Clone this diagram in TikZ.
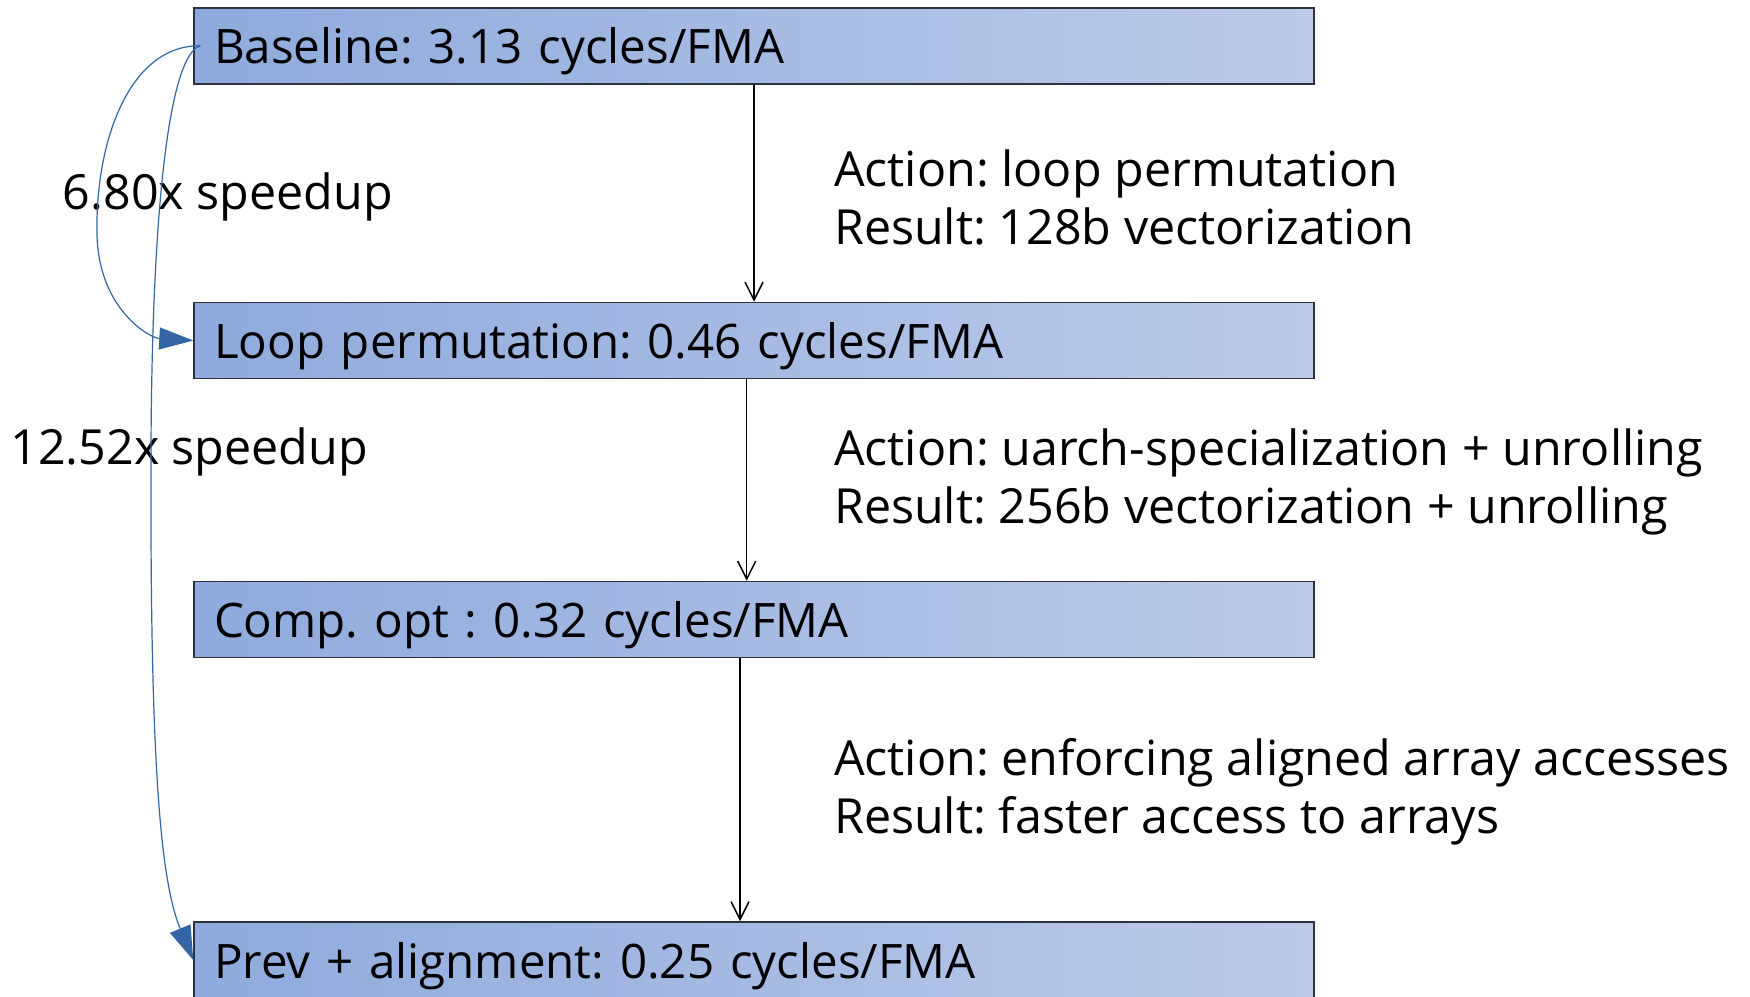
\documentclass[tikz,border=0pt]{standalone}
\usepackage{fontspec}
\setmainfont{Open Sans}
\usetikzlibrary{arrows.meta}
\definecolor{boxL}{RGB}{143,170,221}
\definecolor{boxR}{RGB}{189,203,233}
\definecolor{boxB}{RGB}{45,50,60}
\definecolor{curvec}{RGB}{52,101,164}
\begin{document}
\frenchspacing
\begin{tikzpicture}[x=0.5pt,y=-0.5pt,
  stage/.style={draw=boxB, line width=0.75pt, left color=boxL, right color=boxR,
    minimum height=38pt, inner xsep=10pt, inner ysep=0pt, text width=540pt,
    text height=22pt, text depth=4pt,
    align=left, font=\fontsize{23.75pt}{29pt}\selectfont},
  note/.style={anchor=west, align=left, inner sep=0pt, font=\fontsize{24.2pt}{29pt}\selectfont},
  flow/.style={draw=black, line width=0.75pt, -{Straight Barb[length=9pt,width=9pt]}},
  jump/.style={draw=curvec, line width=0.6pt, -{Triangle[length=17pt,width=11pt]}}]
\useasboundingbox (0,0) rectangle (1750,996);
\node[stage] (b1) at (754,45.75) {Baseline: 3.13 cycles/FMA};
\node[stage] (b2) at (754,340.5) {Loop permutation: 0.46 cycles/FMA};
\node[stage] (b3) at (754,619.5) {Comp. opt : 0.32 cycles/FMA};
\node[stage] (b4) at (754,960) {Prev + alignment: 0.25 cycles/FMA};

\node[note] (n1) at (833.7,197.6) {Action: loop permutation\\Result: 128b vectorization};
\node[note] (n2) at (833.7,482.2) {Action: uarch-specialization + unrolling\\Result: 256b vectorization + unrolling};
\node[note] (n3) at (833.7,791.3) {Action: enforcing aligned array accesses\\Result: faster access to arrays};

\node[note] (s1) at (62.5,196.5) {6.80x speedup};
\node[note] (s2) at (10,451.5) {12.52x speedup};

\draw[flow] (b1.south) -- (b2.north);
\draw[flow] ([xshift=-3.65pt]b2.south) -- ([xshift=-3.65pt]b3.north);
\draw[flow] ([xshift=-7pt]b3.south) -- ([xshift=-7pt]b4.north);

\draw[jump] ([xshift=3.5pt]b1.west) .. controls (130,45) and (95,140) .. (97,235)
  .. controls (99,310) and (150,338) .. (b2.west);
\draw[jump] ([xshift=3.5pt]b1.west) .. controls (170,55) and (152,200) .. (151,450)
  .. controls (150,760) and (160,880) .. (b4.west);
\end{tikzpicture}
\end{document}
